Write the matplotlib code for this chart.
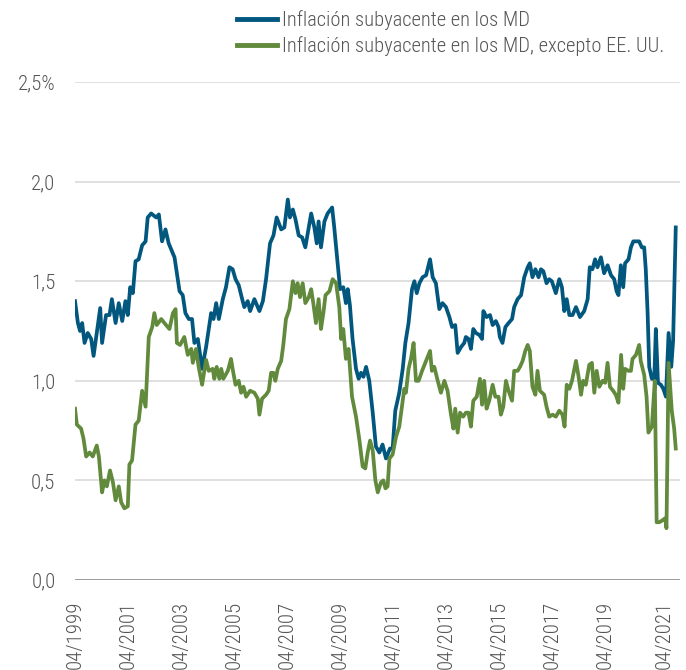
import matplotlib
matplotlib.use("Agg")
import matplotlib.pyplot as plt
from matplotlib import font_manager

# ---------------- data (decimal years, values in %) ----------------
blue_x = [1999.25, 1999.36, 1999.44, 1999.52, 1999.61, 1999.73, 1999.86, 1999.95, 2000.07, 2000.20,
          2000.27, 2000.42, 2000.55, 2000.64, 2000.78, 2000.90, 2001.03, 2001.15, 2001.24, 2001.33,
          2001.43, 2001.53, 2001.65, 2001.78, 2001.91, 2001.99, 2002.12, 2002.31, 2002.41, 2002.53,
          2002.66, 2002.78, 2003.00, 2003.19, 2003.31, 2003.41, 2003.54, 2003.66, 2003.75, 2003.88,
          2004.04, 2004.19, 2004.38, 2004.47, 2004.57, 2004.67, 2004.82, 2004.94, 2005.07, 2005.19,
          2005.30, 2005.42, 2005.55, 2005.63, 2005.76, 2005.85, 2006.01, 2006.20, 2006.33, 2006.45,
          2006.60, 2006.73, 2006.85, 2007.02, 2007.14, 2007.27, 2007.35, 2007.46, 2007.56, 2007.68,
          2007.81, 2007.93, 2008.06, 2008.15, 2008.27, 2008.36, 2008.43, 2008.52, 2008.65, 2008.77,
          2008.94, 2009.02, 2009.15, 2009.24, 2009.36, 2009.46, 2009.53, 2009.61, 2009.71, 2009.84,
          2009.94, 2010.03, 2010.12, 2010.22, 2010.34, 2010.47, 2010.59, 2010.72, 2010.84, 2010.97,
          2011.12, 2011.22, 2011.32, 2011.47, 2011.60, 2011.70, 2011.82, 2011.95, 2012.04, 2012.13,
          2012.23, 2012.35, 2012.48, 2012.63, 2012.73, 2012.85, 2012.98, 2013.10, 2013.23, 2013.36,
          2013.46, 2013.58, 2013.67, 2013.80, 2013.92, 2013.98, 2014.08, 2014.17, 2014.26, 2014.36,
          2014.49, 2014.59, 2014.64, 2014.76, 2014.89, 2014.99, 2015.11, 2015.21, 2015.26, 2015.36,
          2015.47, 2015.59, 2015.72, 2015.80, 2015.93, 2016.06, 2016.18, 2016.31, 2016.39, 2016.49,
          2016.60, 2016.72, 2016.81, 2016.90, 2017.02, 2017.12, 2017.22, 2017.37, 2017.50, 2017.60,
          2017.69, 2017.78, 2017.88, 2018.00, 2018.13, 2018.28, 2018.44, 2018.57, 2018.65, 2018.75,
          2018.85, 2018.94, 2019.07, 2019.19, 2019.32, 2019.45, 2019.57, 2019.66, 2019.73, 2019.82,
          2019.91, 2019.98, 2020.11, 2020.20, 2020.29, 2020.41, 2020.51, 2020.61, 2020.70, 2020.76,
          2020.83, 2020.89, 2020.99, 2021.08, 2021.14, 2021.22, 2021.33, 2021.42, 2021.52, 2021.62,
          2021.72, 2021.79, 2021.89]
blue_y = [1.40, 1.29, 1.25, 1.29, 1.19, 1.24, 1.21, 1.125, 1.24, 1.365,
          1.19, 1.33, 1.33, 1.41, 1.29, 1.39, 1.30, 1.40, 1.33, 1.47,
          1.44, 1.60, 1.61, 1.68, 1.70, 1.82, 1.84, 1.82, 1.835, 1.70,
          1.76, 1.69, 1.62, 1.45, 1.43, 1.34, 1.31, 1.31, 1.19, 1.21,
          1.06, 1.17, 1.34, 1.31, 1.39, 1.31, 1.41, 1.47, 1.57, 1.56,
          1.51, 1.48, 1.41, 1.37, 1.40, 1.35, 1.41, 1.35, 1.40, 1.51,
          1.69, 1.73, 1.82, 1.76, 1.77, 1.91, 1.82, 1.86, 1.81, 1.73,
          1.72, 1.67, 1.77, 1.84, 1.77, 1.69, 1.80, 1.67, 1.80, 1.84,
          1.87, 1.77, 1.59, 1.46, 1.47, 1.39, 1.46, 1.38, 1.21, 1.06,
          1.01, 1.04, 1.02, 1.07, 1.00, 0.84, 0.67, 0.64, 0.68, 0.61,
          0.66, 0.66, 0.85, 0.94, 1.06, 1.19, 1.29, 1.46, 1.50, 1.44,
          1.49, 1.52, 1.53, 1.61, 1.52, 1.49, 1.36, 1.39, 1.37, 1.32,
          1.27, 1.28, 1.14, 1.17, 1.19, 1.22, 1.21, 1.16, 1.26, 1.24,
          1.23, 1.21, 1.35, 1.32, 1.33, 1.28, 1.30, 1.27, 1.22, 1.19,
          1.27, 1.29, 1.31, 1.37, 1.41, 1.43, 1.52, 1.57, 1.59, 1.52,
          1.56, 1.52, 1.56, 1.55, 1.49, 1.51, 1.50, 1.44, 1.51, 1.47,
          1.35, 1.41, 1.33, 1.33, 1.37, 1.32, 1.35, 1.41, 1.57, 1.56,
          1.61, 1.57, 1.62, 1.54, 1.58, 1.53, 1.51, 1.45, 1.43, 1.58,
          1.47, 1.59, 1.61, 1.67, 1.70, 1.70, 1.70, 1.67, 1.67, 1.56,
          1.34, 1.07, 1.01, 1.01, 1.26, 0.99, 0.98, 0.96, 0.92, 1.24,
          1.07, 1.20, 1.77]

green_x = [1999.25, 1999.32, 1999.48, 1999.57, 1999.67, 1999.80, 1999.92, 2000.07, 2000.15, 2000.27,
           2000.36, 2000.45, 2000.57, 2000.68, 2000.78, 2000.90, 2000.99, 2001.11, 2001.24, 2001.30,
           2001.40, 2001.53, 2001.65, 2001.78, 2001.91, 2002.03, 2002.16, 2002.24, 2002.33, 2002.50,
           2002.68, 2002.81, 2002.94, 2003.04, 2003.09, 2003.21, 2003.37, 2003.50, 2003.63, 2003.69,
           2003.81, 2003.91, 2004.04, 2004.19, 2004.29, 2004.44, 2004.50, 2004.59, 2004.69, 2004.76,
           2004.84, 2005.01, 2005.13, 2005.19, 2005.30, 2005.42, 2005.51, 2005.60, 2005.70, 2005.85,
           2006.01, 2006.14, 2006.20, 2006.30, 2006.45, 2006.55, 2006.64, 2006.73, 2006.80, 2006.89,
           2007.02, 2007.10, 2007.20, 2007.33, 2007.46, 2007.56, 2007.64, 2007.73, 2007.83, 2007.93,
           2008.06, 2008.15, 2008.23, 2008.33, 2008.43, 2008.52, 2008.61, 2008.69, 2008.84, 2008.96,
           2009.09, 2009.21, 2009.28, 2009.36, 2009.46, 2009.56, 2009.69, 2009.84, 2009.97, 2010.09,
           2010.19, 2010.28, 2010.37, 2010.47, 2010.57, 2010.66, 2010.78, 2010.87, 2010.95, 2011.03,
           2011.10, 2011.22, 2011.35, 2011.47, 2011.57, 2011.66, 2011.72, 2011.82, 2011.91, 2012.01,
           2012.10, 2012.20, 2012.33, 2012.48, 2012.63, 2012.70, 2012.79, 2012.92, 2013.04, 2013.17,
           2013.29, 2013.42, 2013.51, 2013.58, 2013.67, 2013.76, 2013.88, 2013.98, 2014.08, 2014.17,
           2014.26, 2014.39, 2014.51, 2014.59, 2014.67, 2014.76, 2014.86, 2014.99, 2015.09, 2015.21,
           2015.30, 2015.39, 2015.49, 2015.59, 2015.72, 2015.80, 2015.93, 2016.02, 2016.12, 2016.22,
           2016.31, 2016.39, 2016.49, 2016.60, 2016.68, 2016.77, 2016.93, 2017.02, 2017.12, 2017.25,
           2017.37, 2017.50, 2017.62, 2017.70, 2017.78, 2017.88, 2017.98, 2018.13, 2018.23, 2018.32,
           2018.40, 2018.50, 2018.63, 2018.73, 2018.82, 2018.91, 2019.01, 2019.13, 2019.23, 2019.32,
           2019.41, 2019.53, 2019.63, 2019.73, 2019.83, 2019.91, 2019.98, 2020.11, 2020.20, 2020.26,
           2020.39, 2020.51, 2020.57, 2020.70, 2020.79, 2020.86, 2020.99, 2021.10, 2021.17, 2021.27,
           2021.39, 2021.49, 2021.54, 2021.62, 2021.74, 2021.83, 2021.89]
green_y = [0.86, 0.78, 0.76, 0.71, 0.62, 0.64, 0.62, 0.675, 0.62, 0.44,
           0.50, 0.47, 0.55, 0.49, 0.40, 0.47, 0.39, 0.36, 0.37, 0.58,
           0.60, 0.78, 0.80, 0.95, 0.87, 1.22, 1.27, 1.34, 1.28, 1.31,
           1.28, 1.26, 1.34, 1.36, 1.19, 1.18, 1.22, 1.13, 1.16, 1.09,
           1.16, 1.07, 0.98, 1.105, 1.05, 1.06, 1.01, 1.07, 1.01, 1.06,
           1.01, 1.05, 1.11, 1.06, 0.98, 1.00, 0.94, 0.97, 0.92, 0.95,
           0.94, 0.91, 0.83, 0.91, 0.93, 0.95, 1.04, 1.04, 1.00, 1.06,
           1.10, 1.18, 1.31, 1.36, 1.50, 1.44, 1.49, 1.42, 1.49, 1.39,
           1.42, 1.46, 1.39, 1.29, 1.41, 1.26, 1.34, 1.43, 1.45, 1.51,
           1.49, 1.37, 1.21, 1.26, 1.11, 1.16, 0.92, 0.82, 0.70, 0.57,
           0.56, 0.64, 0.70, 0.65, 0.50, 0.44, 0.49, 0.50, 0.46, 0.47,
           0.61, 0.63, 0.72, 0.77, 0.87, 0.96, 0.94, 1.06, 1.11, 1.19,
           1.00, 1.00, 1.05, 1.10, 1.15, 1.05, 1.07, 1.00, 0.94, 1.00,
           0.95, 0.83, 0.76, 0.86, 0.74, 0.84, 0.82, 0.84, 0.84, 0.77,
           0.90, 0.92, 1.01, 0.88, 1.00, 0.86, 0.90, 0.98, 0.92, 0.92,
           0.83, 0.87, 1.00, 0.95, 0.90, 1.05, 1.05, 1.07, 1.10, 1.15,
           1.18, 1.15, 0.97, 0.93, 1.05, 0.95, 0.93, 0.87, 0.82, 0.83,
           0.82, 0.85, 0.83, 0.77, 0.98, 0.96, 1.00, 1.10, 1.02, 0.93,
           1.00, 0.98, 1.08, 1.09, 0.94, 1.05, 0.97, 1.00, 0.99, 1.09,
           0.97, 0.95, 0.93, 0.89, 1.13, 0.96, 1.06, 1.05, 1.05, 1.11,
           1.13, 1.18, 1.10, 1.03, 0.92, 0.74, 0.77, 1.00, 0.29, 0.29,
           0.30, 0.31, 0.26, 1.09, 0.85, 0.76, 0.66]

tick_pos = [1999.25, 2001.25, 2003.25, 2005.25, 2007.25, 2009.25, 2011.25, 2013.25,
            2015.25, 2017.25, 2019.25, 2021.47]
tick_labels = ["04/1999", "04/2001", "04/2003", "04/2005", "04/2007", "04/2009", "04/2011",
               "04/2013", "04/2015", "04/2017", "04/2019", "04/2021"]
y_ticks = [0.0, 0.5, 1.0, 1.5, 2.0, 2.5]
y_labels = ["0,0", "0,5", "1,0", "1,5", "2,0", "2,5%"]
series_names = ["Inflación subyacente en los MD",
                "Inflación subyacente en los MD, excepto EE. UU."]

# ---------------- font choice: prefer a condensed face ----------------
fonts = font_manager.fontManager.ttflist
names = {f.name for f in fonts}
STRETCH = "normal"
WEIGHT = "normal"
if "Roboto Condensed" in names:
    FAMILY, SIZE, LSIZE = "Roboto Condensed", 15, 14.8
    if any(f.name == "Roboto Condensed" and f.weight in (300, "light") for f in fonts):
        WEIGHT = "light"
elif "Liberation Sans Narrow" in names:
    FAMILY, SIZE, LSIZE = "Liberation Sans Narrow", 14.5, 14.8
elif any(f.name == "DejaVu Sans" and f.stretch == "condensed" for f in fonts):
    FAMILY, SIZE, LSIZE, STRETCH = "DejaVu Sans", 11.5, 12, "condensed"
else:
    FAMILY, SIZE, LSIZE = "Roboto", 12, 12.5
plt.rcParams["font.family"] = [FAMILY, "DejaVu Sans"]
plt.rcParams["font.stretch"] = STRETCH
plt.rcParams["font.weight"] = WEIGHT

BLUE = "#02577F"
GREEN = "#628A3C"
TXT = "#555555"

fig = plt.figure(figsize=(6.86, 6.70), dpi=100)
ax = fig.add_axes([75 / 686, 90 / 670, 605 / 686, 498 / 670])

ax.plot(blue_x, blue_y, color=BLUE, lw=2.7, solid_joinstyle="round", label=series_names[0], zorder=3)
ax.plot(green_x, green_y, color=GREEN, lw=2.7, solid_joinstyle="round", label=series_names[1], zorder=3)

ax.set_xlim(1999.25, 2022.05)
ax.set_ylim(0, 2.5)
ax.set_yticks(y_ticks)
ax.set_yticklabels(y_labels)
ax.set_xticks(tick_pos)
ax.set_xticklabels(tick_labels, rotation=90)
ax.tick_params(axis="y", length=0, pad=14, labelsize=SIZE, labelcolor=TXT)
ax.tick_params(axis="x", length=0, pad=15, labelsize=SIZE, labelcolor=TXT)
for lab in ax.get_xticklabels():
    lab.set_va("top")

for s in ax.spines.values():
    s.set_visible(False)
ax.grid(axis="y", color="#DDDDDD", lw=1.3, zorder=0)
ax.set_axisbelow(True)
ax.axhline(0, color="#999999", lw=1.3, zorder=2)

leg = fig.legend(loc="upper left", bbox_to_anchor=(237 / 686, 1 - 10 / 670), frameon=False,
                 fontsize=LSIZE, handlelength=1.95, handletextpad=0.25, labelspacing=0.32,
                 borderaxespad=0, borderpad=0)
for t in leg.get_texts():
    t.set_color(TXT)
for h in leg.get_lines():
    h.set_linewidth(3.5)

fig.savefig("out.png", dpi=100)
